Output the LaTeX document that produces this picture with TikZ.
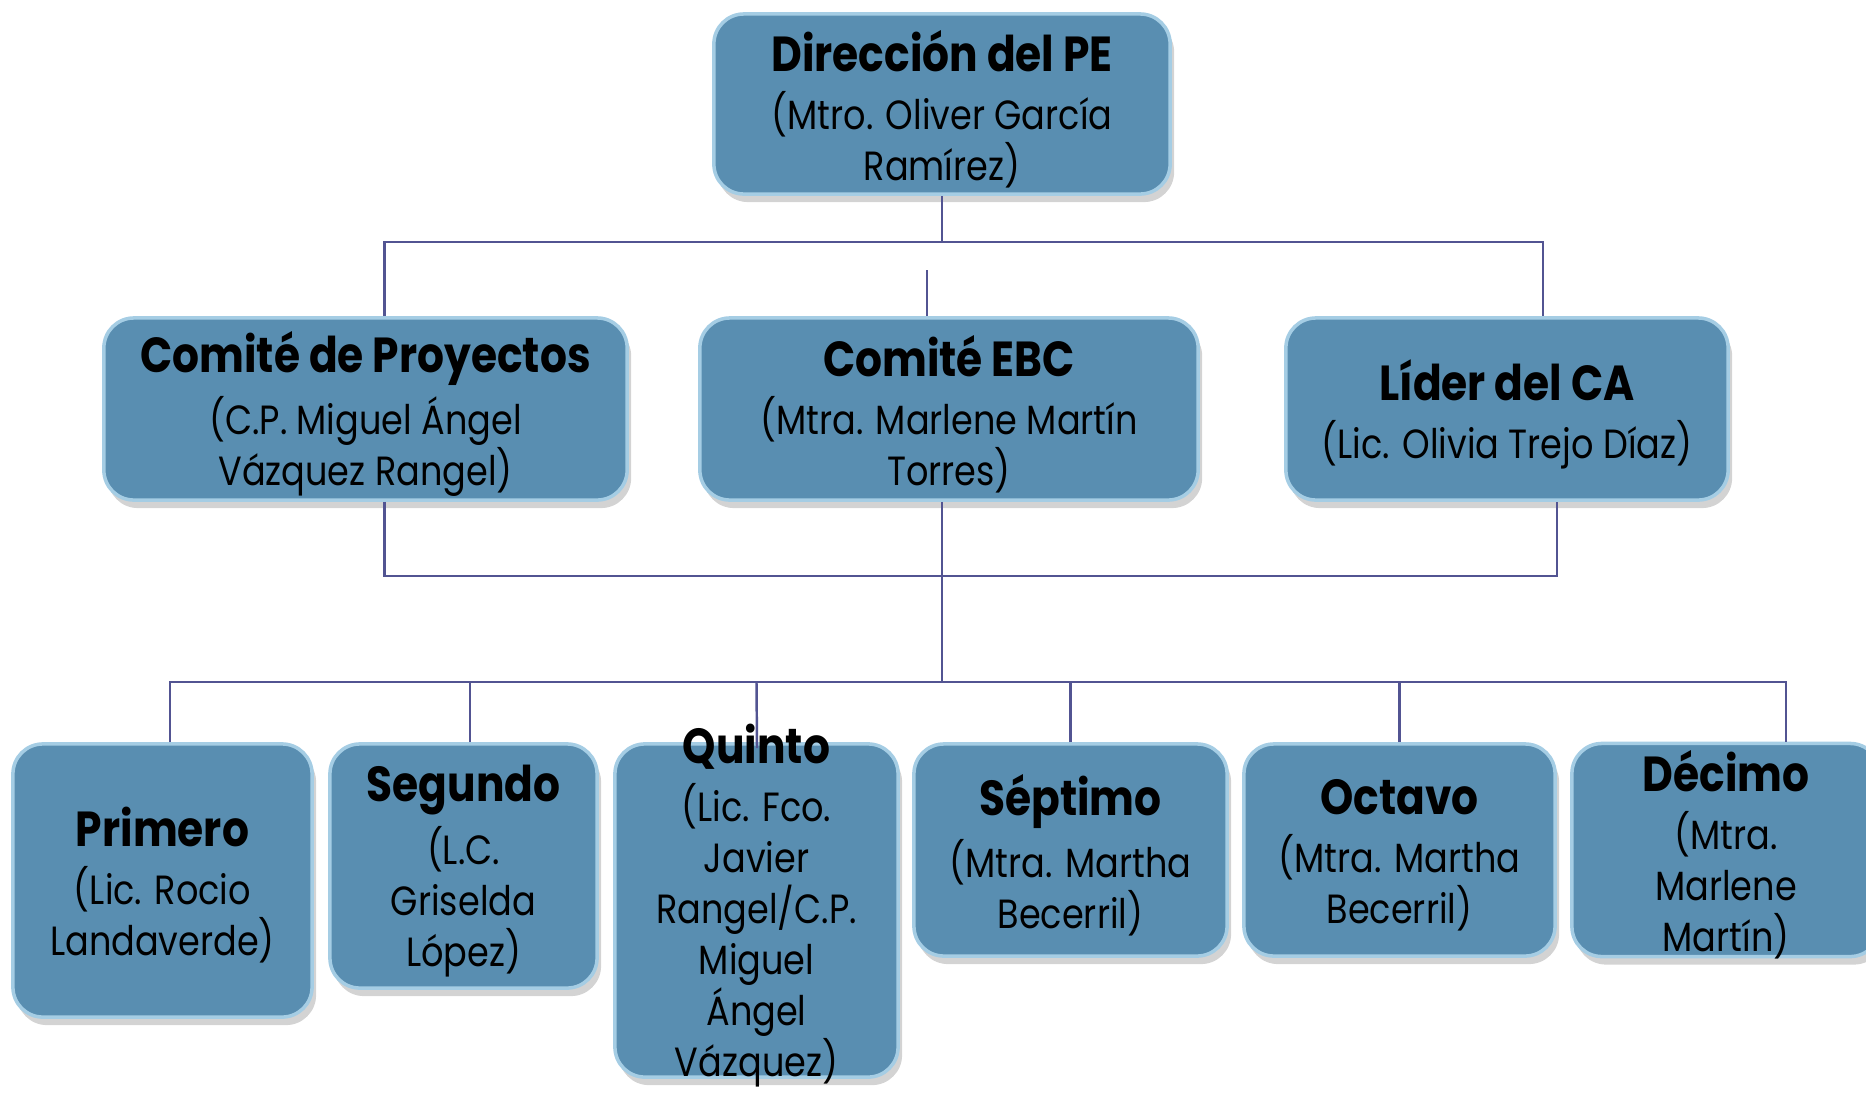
\documentclass[tikz,border=0pt]{standalone}
\usepackage{fontspec}
\setmainfont{Poppins}[FakeStretch=0.86]
\usepackage{tikz}
\usepackage{xcolor}
\usetikzlibrary{shapes,arrows,positioning,calc,shadows}

\definecolor{azulcaja}{RGB}{89,142,177}
\definecolor{bordecaja}{RGB}{165,205,228}
\definecolor{azullinea}{RGB}{82,84,146}
\newcommand{\titulo}[1]{{\fontsize{14}{15}\selectfont\bfseries #1}}

\begin{document}
\begin{tikzpicture}[x=0.01cm, y=-0.01cm]
  \tikzstyle{caja}=[rectangle, rounded corners=0.3cm, fill=azulcaja, draw=bordecaja, line width=1pt, drop shadow={shadow xshift=0.04cm, shadow yshift=-0.08cm, opacity=0.35}]
  \tikzstyle{texto}=[align=center, text=black, yshift=-0.05cm, font=\fontsize{11.6}{14.5}\selectfont]
  \tikzstyle{linea}=[-, line width=0.7pt, azullinea]

  \useasboundingbox (0,0) rectangle (1866,1093);

  % Direccion arriba
  \node[caja, minimum width=4.56cm, minimum height=1.80cm] (dir) at (942,104) {};
  \node[texto] (tdir) at (dir) {\titulo{Dirección del PE}\\[2pt](Mtro. Oliver García\\Ramírez)};

  % Comites
  \node[caja, minimum width=5.23cm, minimum height=1.82cm] (cp) at (365.5,409) {};
  \node[caja, minimum width=4.98cm, minimum height=1.82cm] (ebc) at (949,409) {};
  \node[caja, minimum width=4.42cm, minimum height=1.82cm] (lider) at (1507,409) {};
  \node[texto] (tcp) at (cp) {\titulo{Comité de Proyectos}\\[2pt](C.P. Miguel Ángel\\Vázquez Rangel)};
  \node[texto] (tebc) at (ebc) {\titulo{Comité EBC}\\[2pt](Mtra. Marlene Martín\\Torres)};
  \node[texto] (tlider) at (lider) {\titulo{Líder del CA}\\[2pt](Lic. Olivia Trejo Díaz)};

  % Semestres abajo
  \node[caja, minimum width=2.99cm, minimum height=2.73cm] (primero) at (162.5,880.5) {};
  \node[caja, minimum width=2.67cm, minimum height=2.44cm] (segundo) at (463.5,866) {};
  \node[caja, minimum width=2.83cm, minimum height=3.33cm] (quinto) at (756.5,910.5) {};
  \node[caja, minimum width=3.13cm, minimum height=2.12cm] (septimo) at (1070.5,850) {};
  \node[caja, minimum width=3.11cm, minimum height=2.12cm] (octavo) at (1399.5,850) {};
  \node[caja, minimum width=3.08cm, minimum height=2.13cm] (decimo) at (1726,850) {};
  \node[texto] (tprimero) at (primero) {\titulo{Primero}\\[2pt](Lic. Rocio\\Landaverde)};
  \node[texto] (tsegundo) at (segundo) {\titulo{Segundo}\\[2pt](L.C.\\Griselda\\López)};
  \node[texto, yshift=0.1cm] (tquinto) at (quinto) {\titulo{Quinto}\\[2pt](Lic. Fco.\\Javier\\Rangel/C.P.\\Miguel\\Ángel\\Vázquez)};
  \node[texto] (tseptimo) at (septimo) {\titulo{Séptimo}\\[2pt](Mtra. Martha\\Becerril)};
  \node[texto] (toctavo) at (octavo) {\titulo{Octavo}\\[2pt](Mtra. Martha\\Becerril)};
  \node[texto] (tdecimo) at (decimo) {\titulo{Décimo}\\[2pt](Mtra.\\Marlene\\Martín)};

  % Puntos de union
  \coordinate (b1) at (942,242);
  \coordinate (b2) at (942,576);
  \coordinate (b3) at (942,682);
  \coordinate (corto) at (927,270);

  % Direccion - comites
  \draw[linea] (dir.south -| b1) -- (b1);
  \draw[linea] ([xshift=0.19cm]cp.north) |- (b1) -| ([xshift=0.36cm]lider.north);
  \draw[linea] (corto) -- (corto |- ebc.north);

  % Comites - semestres
  \draw[linea] ([xshift=0.19cm]cp.south) |- (b2) -| ([xshift=0.5cm]lider.south);
  \draw[linea] (ebc.south -| b2) -- (b3);
  \draw[linea] ([xshift=0.075cm]primero.north) |- (b3) -| ([xshift=0.6cm]decimo.north);
  \draw[linea] ([xshift=0.065cm]segundo.north) -- ([xshift=0.065cm]segundo.north |- b3);
  \draw[linea] ([xshift=0.005cm,yshift=-0.06cm]quinto.north) -- (quinto.north |- b3);
  \draw[linea] (septimo.north) -- (septimo.north |- b3);
  \draw[linea] (octavo.north) -- (octavo.north |- b3);
\end{tikzpicture}
\end{document}
